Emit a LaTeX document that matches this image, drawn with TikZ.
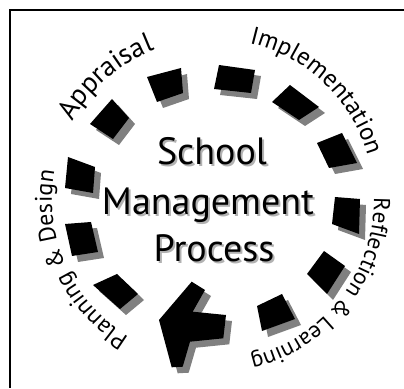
\documentclass[tikz,border=0pt]{standalone}
\usepackage{fontspec}
\setmainfont{PT Sans}
\usetikzlibrary{decorations.text}
\newcommand\implfont{\fontsize{25}{25}\selectfont}
\newcommand\reflfont{\fontsize{23}{23}\selectfont}
\newcommand\planfont{\fontsize{24}{24}\selectfont}
\newcommand\appfont{\fontsize{28}{28}\selectfont}
\begin{document}
\begin{tikzpicture}[x=1pt,y=1pt,
  tile/.style={fill=black},
  tileshade/.style={fill=black!50},
  ctext/.style={font=\fontsize{38}{38}\selectfont, anchor=base, inner sep=0pt},
  cshade/.style={ctext, text=black!30},
  frame/.style={line width=2pt}]
\useasboundingbox (0,0) rectangle (404,388);
\fill[white] (0,0) rectangle (404,388);
\begin{scope}[shift={(0,388)}, yscale=-1]
  \draw[frame] (404,10) -- (9.5,10) -- (9.5,388);
  % shadows
  \begin{scope}[shift={(6,6)}]
    \fill[tileshade] (147,77) -- (181,68) -- (183,93) -- (157,102) -- cycle;
    \fill[tileshade] (90,124) -- (112,99) -- (129,118) -- (113,139) -- cycle;
    \fill[tileshade] (68,157) -- (95,167) -- (93,193) -- (65,188) -- cycle;
    \fill[tileshade] (65,224) -- (91,222) -- (98,252) -- (72,256) -- cycle;
    \fill[tileshade] (93,285) -- (117,274) -- (138,294) -- (120,309) -- cycle;
    \fill[tileshade] (219,65) -- (255,70) -- (251,93) -- (214,89) -- cycle;
    \fill[tileshade] (272,102) -- (290,85) -- (319,107) -- (299,120) -- cycle;
    \fill[tileshade] (317,143) -- (342,133) -- (357,163) -- (329,168) -- cycle;
    \fill[tileshade] (335,197) -- (360,199) -- (359,234) -- (332,224) -- cycle;
    \fill[tileshade] (307,274) -- (324,251) -- (345,266) -- (327,294) -- cycle;
    \fill[tileshade] (257,306) -- (282,294) -- (295,319) -- (262,331) -- cycle;
    \fill[tileshade] (191.7,281.7) -- (205,290) -- (192.7,311.7) -- (226,315) -- (223.3,338.3) -- (190,341.7) -- (182.7,366.7) -- (171.7,367.3) -- (159,320) -- cycle;
  \end{scope}
  % tiles
  \fill[tile] (147,77) -- (181,68) -- (183,93) -- (157,102) -- cycle;
  \fill[tile] (90,124) -- (112,99) -- (129,118) -- (113,139) -- cycle;
  \fill[tile] (68,157) -- (95,167) -- (93,193) -- (65,188) -- cycle;
  \fill[tile] (65,224) -- (91,222) -- (98,252) -- (72,256) -- cycle;
  \fill[tile] (93,285) -- (117,274) -- (138,294) -- (120,309) -- cycle;
  \fill[tile] (219,65) -- (255,70) -- (251,93) -- (214,89) -- cycle;
  \fill[tile] (272,102) -- (290,85) -- (319,107) -- (299,120) -- cycle;
  \fill[tile] (317,143) -- (342,133) -- (357,163) -- (329,168) -- cycle;
  \fill[tile] (335,197) -- (360,199) -- (359,234) -- (332,224) -- cycle;
  \fill[tile] (307,274) -- (324,251) -- (345,266) -- (327,294) -- cycle;
  \fill[tile] (257,306) -- (282,294) -- (295,319) -- (262,331) -- cycle;
  \fill[tile] (191.7,281.7) -- (205,290) -- (192.7,311.7) -- (226,315) -- (223.3,338.3) -- (190,341.7) -- (182.7,366.7) -- (171.7,367.3) -- (159,320) -- cycle;
  % centre title
  \node[cshade] (schoolsh) at (214,167) {School};
  \node[cshade] (mgmtsh) at (210,217) {Management};
  \node[cshade] (procsh) at (216,264) {Process};
  \node[ctext] (school) at (212,165) {School};
  \node[ctext] (mgmt) at (208,215) {Management};
  \node[ctext] (proc) at (214,262) {Process};
\end{scope}
% curved labels (y up), centre (213,188)
\path[decorate, decoration={text along path, text align=center, text={|\appfont|Appraisal}}]
  (213,188) ++(161:161) arc[start angle=161, end angle=101, radius=161];
\path[decorate, decoration={text along path, text align=center, text={|\implfont|Implementation}}]
  (213,188) ++(93:161) arc[start angle=93, end angle=0, radius=161];
\path[decorate, decoration={text along path, text align=center, text={|\reflfont|Reflection {\&} Learning}}]
  (213,188) ++(10:161) arc[start angle=10, end angle=-86, radius=161];
\path[decorate, decoration={text along path, text align=center, text={|\planfont|Planning {\&} Design}}]
  (213,188) ++(250:161) arc[start angle=250, end angle=158, radius=161];
\end{tikzpicture}
\end{document}
